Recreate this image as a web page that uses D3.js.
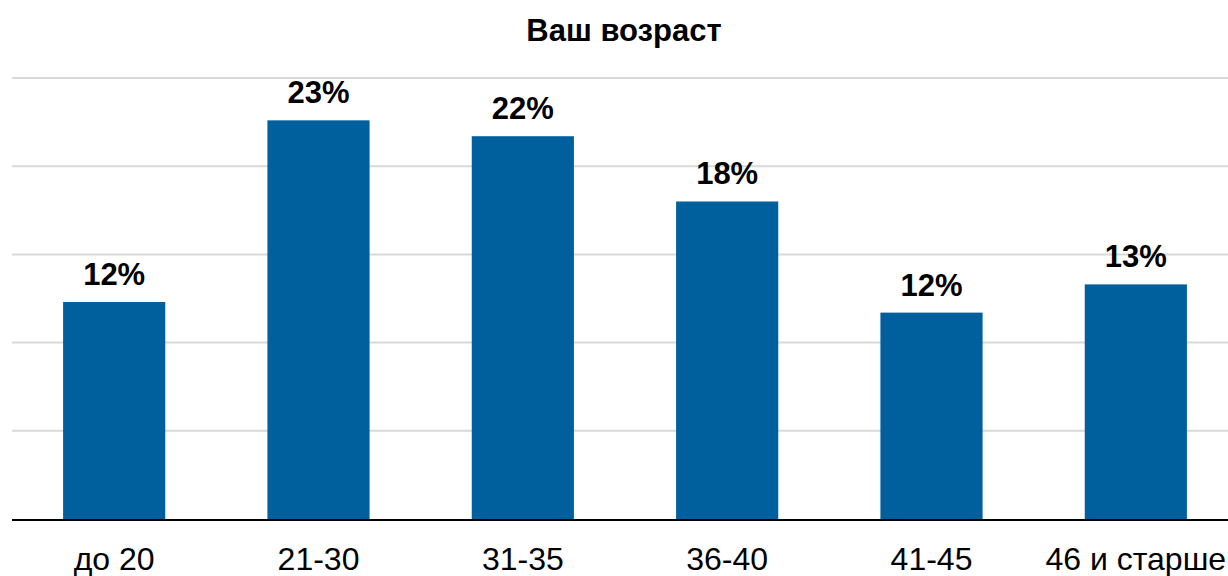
<!DOCTYPE html>
<html>
<head>
<meta charset="utf-8">
<script src="https://cdn.jsdelivr.net/npm/d3@7"></script>
<style>
  body { margin: 0; background: #fff; }
  text { font-family: "Liberation Sans", Arial, sans-serif; }
</style>
</head>
<body>
<div id="chart"></div>
<script>
// categories and values (percent)
var categories = ["до 20", "21-30", "31-35", "36-40", "41-45", "46 и старше"];
var values = [12.3, 22.6, 21.7, 18.0, 11.7, 13.3];
var labels = ["12%", "23%", "22%", "18%", "12%", "13%"];
var gridTicks = [0, 5, 10, 15, 20, 25];

var width = 1228, height = 576;
var plotLeft = 12, plotRight = 1238, plotTop = 78, plotBottom = 519;

var svg = d3.select("#chart").append("svg")
    .attr("width", width)
    .attr("height", height);

var x = d3.scaleBand()
    .domain(categories)
    .range([plotLeft, plotRight])
    .paddingInner(0.5)
    .paddingOuter(0.25);

var y = d3.scaleLinear()
    .domain([0, 25])
    .range([plotBottom, plotTop]);

// gridlines
svg.append("g")
    .selectAll("line")
    .data(gridTicks.slice(1))
    .enter().append("line")
    .attr("x1", plotLeft)
    .attr("x2", width)
    .attr("y1", function(d) { return y(d); })
    .attr("y2", function(d) { return y(d); })
    .attr("stroke", "#d9d9d9")
    .attr("stroke-width", 2);

// bars
svg.append("g")
    .selectAll("rect")
    .data(values)
    .enter().append("rect")
    .attr("x", function(d, i) { return x(categories[i]); })
    .attr("y", function(d) { return y(d); })
    .attr("width", x.bandwidth())
    .attr("height", function(d) { return y(0) - y(d); })
    .attr("fill", "#00609e");

// value labels
svg.append("g")
    .selectAll("text")
    .data(values)
    .enter().append("text")
    .attr("x", function(d, i) { return x(categories[i]) + x.bandwidth() / 2; })
    .attr("y", function(d) { return y(d) - 17; })
    .attr("text-anchor", "middle")
    .style("font-size", "31px")
    .style("font-weight", "bold")
    .text(function(d, i) { return labels[i]; });

// baseline
svg.append("line")
    .attr("x1", plotLeft)
    .attr("x2", width)
    .attr("y1", y(0) + 1)
    .attr("y2", y(0) + 1)
    .attr("stroke", "#000")
    .attr("stroke-width", 2);

// category labels
svg.append("g")
    .selectAll("text")
    .data(categories)
    .enter().append("text")
    .attr("x", function(d) { return x(d) + x.bandwidth() / 2; })
    .attr("y", 570)
    .attr("text-anchor", "middle")
    .style("font-size", "32px")
    .text(function(d) { return d; });

// title
svg.append("text")
    .attr("x", 624)
    .attr("y", 41)
    .attr("text-anchor", "middle")
    .style("font-size", "31px")
    .style("font-weight", "bold")
    .text("Ваш возраст");
</script>
</body>
</html>
